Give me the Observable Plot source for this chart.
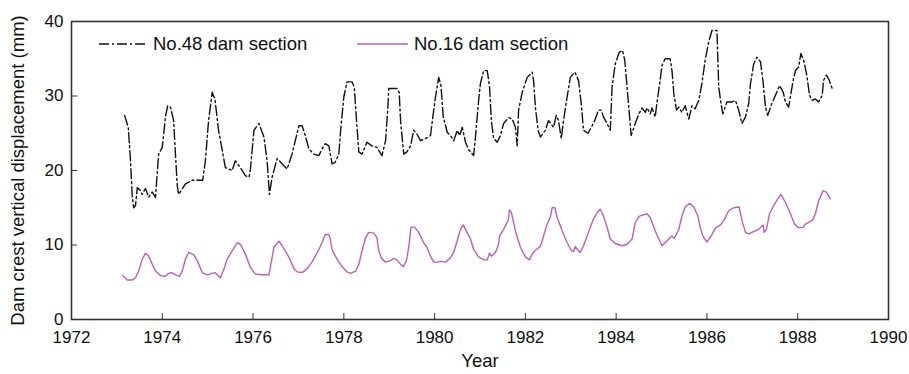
<!DOCTYPE html>
<html>
<head>
<meta charset="utf-8">
<script src="https://cdn.jsdelivr.net/npm/d3@7"></script>
<script src="https://cdn.jsdelivr.net/npm/@observablehq/plot@0.6"></script>
<style>
  html, body { margin: 0; padding: 0; background: #fff; }
  #wrap { position: relative; width: 909px; height: 374px; font-family: "Liberation Sans", Arial, sans-serif; }
  #legend { position: absolute; left: 0; top: 0; width: 909px; height: 60px; pointer-events: none; }
  .item { position: absolute; top: 33px; display: flex; align-items: center; font-size: 18.5px; color: #111; white-space: nowrap; }
  .item svg { margin-right: 6px; }
</style>
</head>
<body>
<div id="wrap">
  <div id="chart"></div>
  <div id="legend">
    <div class="item" style="left:99px;"><svg width="48" height="20"><line x1="0" y1="10" x2="48" y2="10" stroke="#111" stroke-width="1.4" stroke-dasharray="10,3,2,3"/></svg><span>No.48 dam section</span></div>
    <div class="item" style="left:357px;"><svg width="51" height="20"><line x1="0" y1="10" x2="51" y2="10" stroke="#bb5fb7" stroke-width="1.4"/></svg><span>No.16 dam section</span></div>
  </div>
</div>
<script>
// ---- Data ----
const seriesNames = ["No.48 dam section", "No.16 dam section"];
const xTicks = [1972, 1974, 1976, 1978, 1980, 1982, 1984, 1986, 1988, 1990];
const yTicks = [0, 10, 20, 30, 40];

const s48Year = [1973.17,1973.25,1973.30,1973.34,1973.37,1973.41,1973.45,1973.52,1973.56,1973.63,1973.70,1973.78,1973.85,1973.92,1974.00,1974.07,1974.12,1974.18,1974.25,1974.29,1974.33,1974.36,1974.51,1974.66,1974.89,1974.95,1975.02,1975.10,1975.16,1975.24,1975.39,1975.54,1975.61,1975.72,1975.83,1975.91,1975.94,1976.02,1976.13,1976.24,1976.31,1976.36,1976.42,1976.53,1976.64,1976.75,1976.86,1976.93,1977.01,1977.08,1977.15,1977.23,1977.34,1977.45,1977.52,1977.59,1977.67,1977.74,1977.81,1977.89,1977.93,1978.00,1978.07,1978.18,1978.23,1978.28,1978.33,1978.40,1978.51,1978.62,1978.73,1978.84,1978.92,1978.97,1978.99,1979.17,1979.22,1979.25,1979.32,1979.39,1979.47,1979.54,1979.61,1979.69,1979.80,1979.91,1979.97,1980.02,1980.09,1980.14,1980.19,1980.28,1980.35,1980.42,1980.50,1980.55,1980.61,1980.68,1980.75,1980.86,1980.90,1980.97,1981.01,1981.08,1981.16,1981.21,1981.25,1981.30,1981.38,1981.45,1981.52,1981.63,1981.71,1981.78,1981.82,1981.85,1981.93,1982.04,1982.15,1982.18,1982.22,1982.28,1982.33,1982.44,1982.51,1982.62,1982.68,1982.73,1982.79,1982.84,1982.92,1982.99,1983.09,1983.17,1983.23,1983.28,1983.38,1983.47,1983.54,1983.61,1983.67,1983.72,1983.80,1983.87,1983.91,1983.98,1984.07,1984.14,1984.19,1984.24,1984.29,1984.33,1984.42,1984.50,1984.57,1984.64,1984.68,1984.75,1984.79,1984.86,1984.90,1984.96,1985.01,1985.08,1985.19,1985.23,1985.27,1985.33,1985.38,1985.45,1985.52,1985.60,1985.67,1985.74,1985.82,1985.89,1985.96,1986.04,1986.11,1986.22,1986.26,1986.30,1986.35,1986.44,1986.55,1986.63,1986.70,1986.77,1986.85,1986.92,1986.96,1987.03,1987.10,1987.18,1987.24,1987.29,1987.34,1987.41,1987.51,1987.60,1987.68,1987.73,1987.80,1987.85,1987.90,1987.95,1988.02,1988.07,1988.13,1988.20,1988.26,1988.32,1988.39,1988.46,1988.54,1988.57,1988.63,1988.68,1988.76];
const s48Value = [27.4,25.8,21.3,16.4,15.0,15.3,17.7,17.3,16.8,17.6,16.4,17.1,16.4,22.2,23.1,27.2,28.7,28.5,26.7,22.2,18.0,16.8,18.2,18.7,18.7,21.3,26.7,30.5,29.6,25.4,20.4,20.0,21.3,20.4,19.3,19.1,20.0,25.4,26.3,24.5,21.3,16.8,19.1,21.6,20.9,20.2,22.2,24.0,26.0,26.0,24.7,22.9,22.2,22.0,22.9,23.6,23.3,20.9,21.1,22.2,25.4,29.9,31.9,31.9,31.2,26.7,22.5,22.2,23.8,23.3,23.1,22.0,24.0,28.5,31.0,31.0,30.5,26.7,22.2,22.5,23.3,25.4,24.9,24.0,24.3,24.7,27.6,29.9,32.5,31.4,27.2,25.1,24.7,24.0,25.4,24.7,25.8,23.8,22.8,22.0,24.5,29.4,31.7,33.4,33.4,31.2,26.7,24.3,23.8,24.7,26.3,27.1,26.9,25.8,23.3,28.1,30.5,32.5,33.2,32.1,28.5,25.4,24.5,25.4,26.7,25.8,27.4,26.7,24.3,26.7,29.9,32.5,33.2,32.1,29.0,25.4,25.0,26.0,26.9,28.1,28.1,27.2,26.3,25.4,31.2,34.3,35.9,36.1,34.8,31.2,27.6,24.7,26.3,27.6,28.4,27.8,28.4,27.6,28.4,27.2,29.2,31.7,34.1,35.0,35.0,33.4,30.3,28.1,28.5,27.8,28.7,26.9,28.7,28.3,29.4,31.7,34.8,37.3,38.8,38.8,31.2,29.4,27.6,29.2,29.2,29.4,28.1,26.3,27.2,29.0,31.7,34.3,35.2,34.6,31.7,28.5,27.4,28.7,30.1,31.4,30.5,29.2,28.5,30.3,32.1,33.4,33.9,35.7,34.8,32.8,30.1,29.4,29.6,29.2,30.1,32.1,32.8,32.3,31.0];

const s16Year = [1973.13,1973.23,1973.34,1973.41,1973.48,1973.56,1973.63,1973.70,1973.78,1973.85,1973.96,1974.07,1974.14,1974.20,1974.29,1974.38,1974.44,1974.51,1974.58,1974.69,1974.77,1974.88,1974.99,1975.10,1975.16,1975.21,1975.28,1975.36,1975.43,1975.54,1975.65,1975.72,1975.83,1975.94,1976.05,1976.20,1976.35,1976.38,1976.46,1976.57,1976.64,1976.75,1976.82,1976.90,1976.97,1977.08,1977.19,1977.26,1977.30,1977.37,1977.45,1977.52,1977.59,1977.67,1977.70,1977.74,1977.85,1977.96,1978.07,1978.15,1978.26,1978.33,1978.40,1978.48,1978.55,1978.66,1978.73,1978.77,1978.84,1978.92,1979.03,1979.10,1979.17,1979.25,1979.31,1979.38,1979.43,1979.48,1979.56,1979.65,1979.76,1979.83,1979.91,1979.98,1980.06,1980.13,1980.24,1980.35,1980.42,1980.50,1980.57,1980.63,1980.68,1980.79,1980.86,1980.97,1981.08,1981.16,1981.21,1981.25,1981.34,1981.41,1981.43,1981.52,1981.62,1981.65,1981.69,1981.78,1981.89,1982.00,1982.09,1982.15,1982.22,1982.33,1982.40,1982.48,1982.55,1982.59,1982.65,1982.70,1982.81,1982.92,1983.01,1983.06,1983.10,1983.16,1983.21,1983.28,1983.39,1983.50,1983.60,1983.65,1983.70,1983.80,1983.87,1983.98,1984.13,1984.24,1984.35,1984.42,1984.50,1984.53,1984.68,1984.75,1984.86,1984.94,1985.01,1985.08,1985.19,1985.23,1985.28,1985.38,1985.45,1985.52,1985.62,1985.71,1985.80,1985.85,1985.91,1986.00,1986.09,1986.19,1986.30,1986.38,1986.48,1986.59,1986.71,1986.77,1986.85,1986.92,1987.03,1987.14,1987.24,1987.26,1987.31,1987.38,1987.47,1987.56,1987.63,1987.73,1987.84,1987.93,1988.02,1988.12,1988.17,1988.32,1988.39,1988.46,1988.56,1988.63,1988.72];
const s16Value = [5.9,5.3,5.3,5.6,6.5,8.1,8.9,8.5,7.4,6.5,5.9,5.8,6.2,6.3,6.0,5.8,6.5,8.1,9.0,8.7,7.9,6.3,6.0,6.2,6.3,6.0,5.6,6.8,8.1,9.2,10.3,10.1,8.8,7.0,6.1,6.0,6.0,7.0,9.7,10.5,9.9,8.8,8.0,6.8,6.4,6.3,6.8,7.4,7.7,8.5,9.4,10.3,11.4,11.4,10.8,9.4,8.1,7.1,6.4,6.2,6.5,7.4,9.2,11.0,11.7,11.6,11.0,9.2,8.1,7.7,7.9,8.2,8.0,7.4,7.1,7.9,9.7,12.4,12.4,11.7,10.3,9.7,8.5,7.7,7.7,7.8,7.7,8.3,9.0,10.6,12.1,12.7,12.1,10.8,9.4,8.4,8.0,8.0,8.9,8.5,9.0,10.1,11.2,12.1,13.3,14.7,14.4,11.9,9.7,8.4,8.0,8.8,9.3,9.8,11.2,12.8,13.8,15.0,15.0,13.7,11.9,10.3,9.3,9.1,9.8,9.3,9.0,9.9,11.7,13.5,14.5,14.8,14.2,12.4,10.8,10.2,9.9,10.1,10.8,13.0,13.8,13.9,14.2,13.7,11.9,10.8,9.9,10.3,11.0,11.2,10.9,12.1,13.9,15.1,15.6,15.1,13.9,12.4,11.2,10.4,11.2,12.3,12.7,13.4,14.6,15.0,15.1,13.3,11.7,11.5,11.8,12.1,12.7,11.7,12.1,14.2,15.3,16.2,16.8,15.7,14.2,12.8,12.3,12.4,12.8,13.3,14.2,15.9,17.3,17.1,16.2];

const rows48 = s48Year.map((t, i) => ({t, v: s48Value[i]}));
const rows16 = s16Year.map((t, i) => ({t, v: s16Value[i]}));

const W = 909, H = 374, mL = 71, mR = 21, mT = 21, mB = 55;
const innerH = H - mT - mB;
const innerW = W - mL - mR;
const font = "Liberation Sans, Arial, sans-serif";

const chart = Plot.plot({
  width: W,
  height: H,
  marginLeft: mL,
  marginRight: mR,
  marginTop: mT,
  marginBottom: mB,
  style: {fontFamily: font, fontSize: "17px", color: "#111", background: "#fff"},
  x: {domain: [1972, 1990], ticks: xTicks, tickSize: 0, tickPadding: 11, tickFormat: d => String(d), label: null},
  y: {domain: [0, 40], ticks: yTicks, tickSize: 0, tickPadding: 8, label: null},
  marks: [
    Plot.line(rows16, {x: "t", y: "v", stroke: "#bb5fb7", strokeWidth: 1.4}),
    Plot.line(rows48, {x: "t", y: "v", stroke: "#111", strokeWidth: 1.4, strokeDasharray: "10,3,2,3"}),
    Plot.tickX(xTicks.slice(1, -1), {x: d => d, insetTop: innerH - 6, stroke: "#333", strokeWidth: 1}),
    Plot.tickY(yTicks.slice(1, -1), {y: d => d, insetRight: innerW - 6, stroke: "#333", strokeWidth: 1}),
    Plot.frame({stroke: "#333", strokeWidth: 1.6}),
    Plot.text(["Year"], {frameAnchor: "bottom", dy: 47, fontSize: 18.5, fill: "#111"}),
    Plot.text(["Dam crest vertical displacement (mm)"], {frameAnchor: "left", textAnchor: "middle", dx: -53, rotate: -90, fontSize: 18.5, fill: "#111"})
  ]
});
document.getElementById("chart").appendChild(chart);
</script>
</body>
</html>
